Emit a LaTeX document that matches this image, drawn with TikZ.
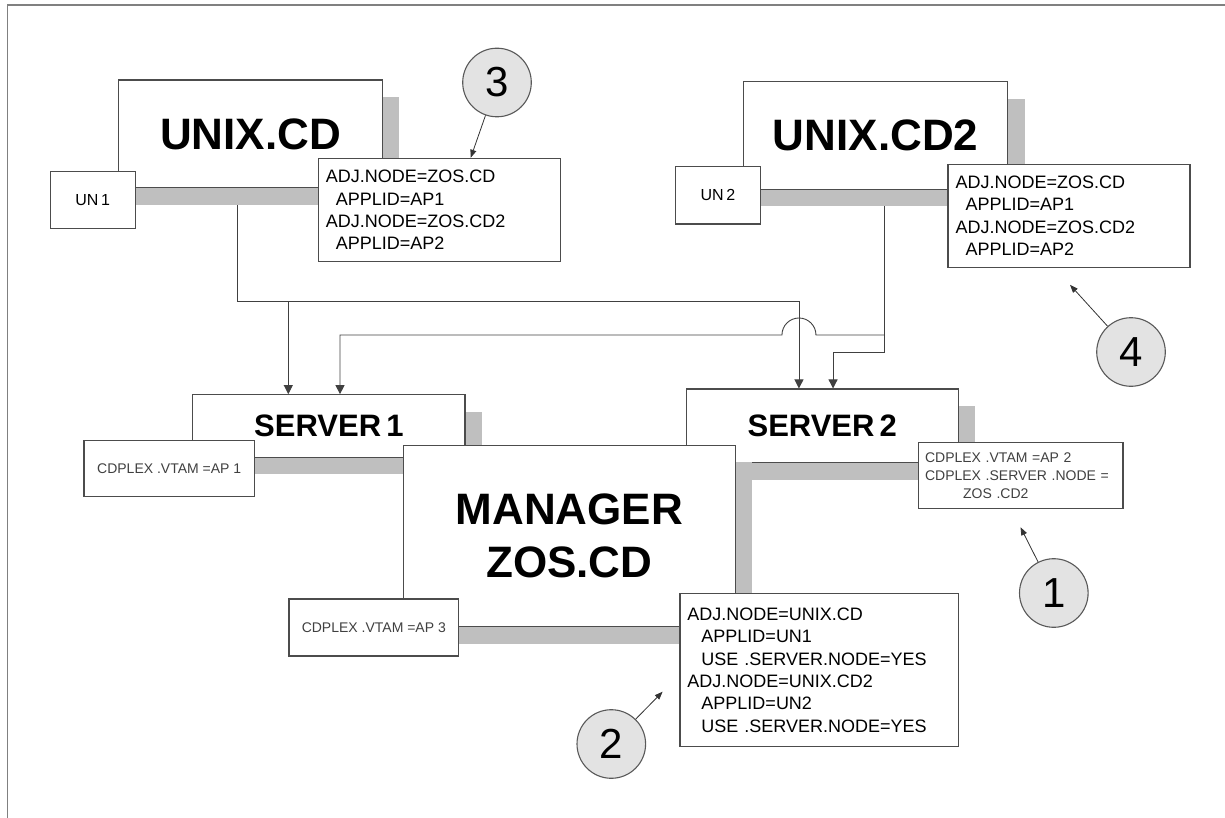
\documentclass[tikz,border=0pt]{standalone}
\usepackage{fontspec}
\setmainfont{Liberation Sans}
\usetikzlibrary{arrows.meta,shadows,backgrounds}

\begin{document}
\begin{tikzpicture}[x=1pt,y=-1pt,
    host/.style={draw=black!70,line width=1.1pt,fill=white,inner sep=0pt,align=center,
        drop shadow={shadow xshift=17pt,shadow yshift=-17pt,fill=black!25,opacity=1}},
    bigname/.style={host,font=\fontsize{44}{53}\selectfont\bfseries},
    srvname/.style={host,font=\fontsize{31}{37}\selectfont\bfseries},
    port/.style={draw=black!70,line width=1.1pt,fill=white,inner sep=0pt,font=\fontsize{16}{19}\selectfont},
    vtam/.style={draw=black!70,line width=1.1pt,fill=white,inner sep=0pt,text=black!75,font=\fontsize{14}{17.7}\selectfont},
    adjlist/.style={draw=black!70,line width=1.1pt,fill=white,inner xsep=7.5pt,inner ysep=0pt,align=left,font=\fontsize{18}{22.4}\selectfont},
    callout/.style={circle,draw=black!65,line width=1.1pt,fill=black!11,inner sep=0pt,minimum size=68.6pt,font=\fontsize{42}{42}\selectfont},
    link/.style={draw=black!75,line width=0.9pt,-{Triangle[length=9pt,width=9pt]}},
    pointer/.style={draw=black!80,line width=0.8pt,-{Triangle[length=8pt,width=6pt]}}]
    \useasboundingbox (0,0) rectangle (1225,818);
    \draw[black!50,line width=1.5pt] (7.5,818) -- (7.5,5) -- (1225,5);

    \node[bigname,minimum width=263.8pt,minimum height=107.7pt] (unixA) at (250.5,133.9) {UNIX.CD};
    \node[port,minimum width=85pt,minimum height=56.6pt] (unA) at (92.7,200) {UN\,1};
    \node[adjlist,text width=227.4pt,minimum height=103.4pt] (adjA) at (439.5,210)
        {ADJ.NODE=ZOS.CD\\\hspace*{10pt}APPLID=AP1\\ADJ.NODE=ZOS.CD2\\\hspace*{10pt}APPLID=AP2};

    \node[bigname,minimum width=264.2pt,minimum height=107.6pt] (unixB) at (875.6,135.5) {UNIX.CD2};
    \node[port,minimum width=85.6pt,minimum height=57.3pt] (unB) at (718,195.4) {UN\,2};
    \node[adjlist,text width=227pt,minimum height=103pt] (adjB) at (1069,215.8)
        {ADJ.NODE=ZOS.CD\\\hspace*{10pt}APPLID=AP1\\ADJ.NODE=ZOS.CD2\\\hspace*{10pt}APPLID=AP2};

    \node[srvname,minimum width=272.2pt,minimum height=62.6pt] (srvA) at (328.9,426) {SERVER\,1};
    \node[vtam,minimum width=170.4pt,minimum height=56.4pt] (vtamA) at (169.2,468.5) {CDPLEX .VTAM =AP 1};
    \node[srvname,minimum width=272.1pt,minimum height=73.7pt] (srvB) at (822.25,425.85) {SERVER\,2};
    \node[vtam,align=left,inner xsep=7pt,text width=190.9pt,minimum height=65.6pt] (vtamB) at (1020.5,475.5)
        {CDPLEX .VTAM =AP 2\\CDPLEX .SERVER .NODE =\\\hspace*{38pt}ZOS .CD2};

    \node[bigname,minimum width=331.9pt,minimum height=181.4pt] (mgr) at (569.25,536) {MANAGER\\ZOS.CD};
    \node[vtam,minimum width=169.6pt,minimum height=57pt] (vtamC) at (373.8,627.5) {CDPLEX .VTAM =AP 3};
    \node[adjlist,text width=263.5pt,minimum height=153.4pt] (adjC) at (819.2,670)
        {ADJ.NODE=UNIX.CD\\\hspace*{14pt}APPLID=UN1\\\hspace*{14pt}USE .SERVER.NODE=YES\\ADJ.NODE=UNIX.CD2\\\hspace*{14pt}APPLID=UN2\\\hspace*{14pt}USE .SERVER.NODE=YES};

    \coordinate (busA) at (0,301);
    \coordinate (busC) at (0,335);
    \coordinate (busB) at (0,352);
    \coordinate (tapA) at ([xshift=-13.5pt]unixA.south);
    \coordinate (tapB) at ([xshift=8.4pt]unixB.south);
    \coordinate (dropA) at ([xshift=-40.6pt]srvA.north);
    \coordinate (dropB) at ([xshift=11.1pt]srvA.north);
    \coordinate (dropC) at ([xshift=-23.3pt]srvB.north);
    \coordinate (dropD) at ([xshift=10.8pt]srvB.north);
    \coordinate (hop) at (dropC |- busC);
    \begin{scope}[on background layer]
        \draw[link] (tapA) |- (dropC |- busA) -- (dropC);
        \draw[link] (dropA |- busA) -- (dropA);
        \draw[link] (tapB) |- (dropD |- busB) -- (dropD);
        \draw[link] (tapB |- busC) -- ([xshift=17pt]hop) arc[start angle=0,end angle=-180,radius=17] -| (dropB);
    \end{scope}

    \node[callout] (noteC) at (497,82.5) {3};
    \node[callout] (noteD) at (1131,352) {4};
    \node[callout] (noteA) at (1053.8,593) {1};
    \node[callout] (noteB) at (611.3,744) {2};
    \coordinate (aimD) at ([xshift=1pt,yshift=-17pt]adjB.south);
    \coordinate (aimA) at ([yshift=-18.4pt]vtamB.south);
    \coordinate (aimB) at ([xshift=-16.8pt,yshift=-21.7pt]adjC.west);
    \draw[pointer] (noteC) -- ([xshift=31.2pt]adjA.north);
    \draw[pointer] (noteD) -- (aimD);
    \draw[pointer] (noteA) -- (aimA);
    \draw[pointer] (noteB) -- (aimB);
\end{tikzpicture}
\end{document}
